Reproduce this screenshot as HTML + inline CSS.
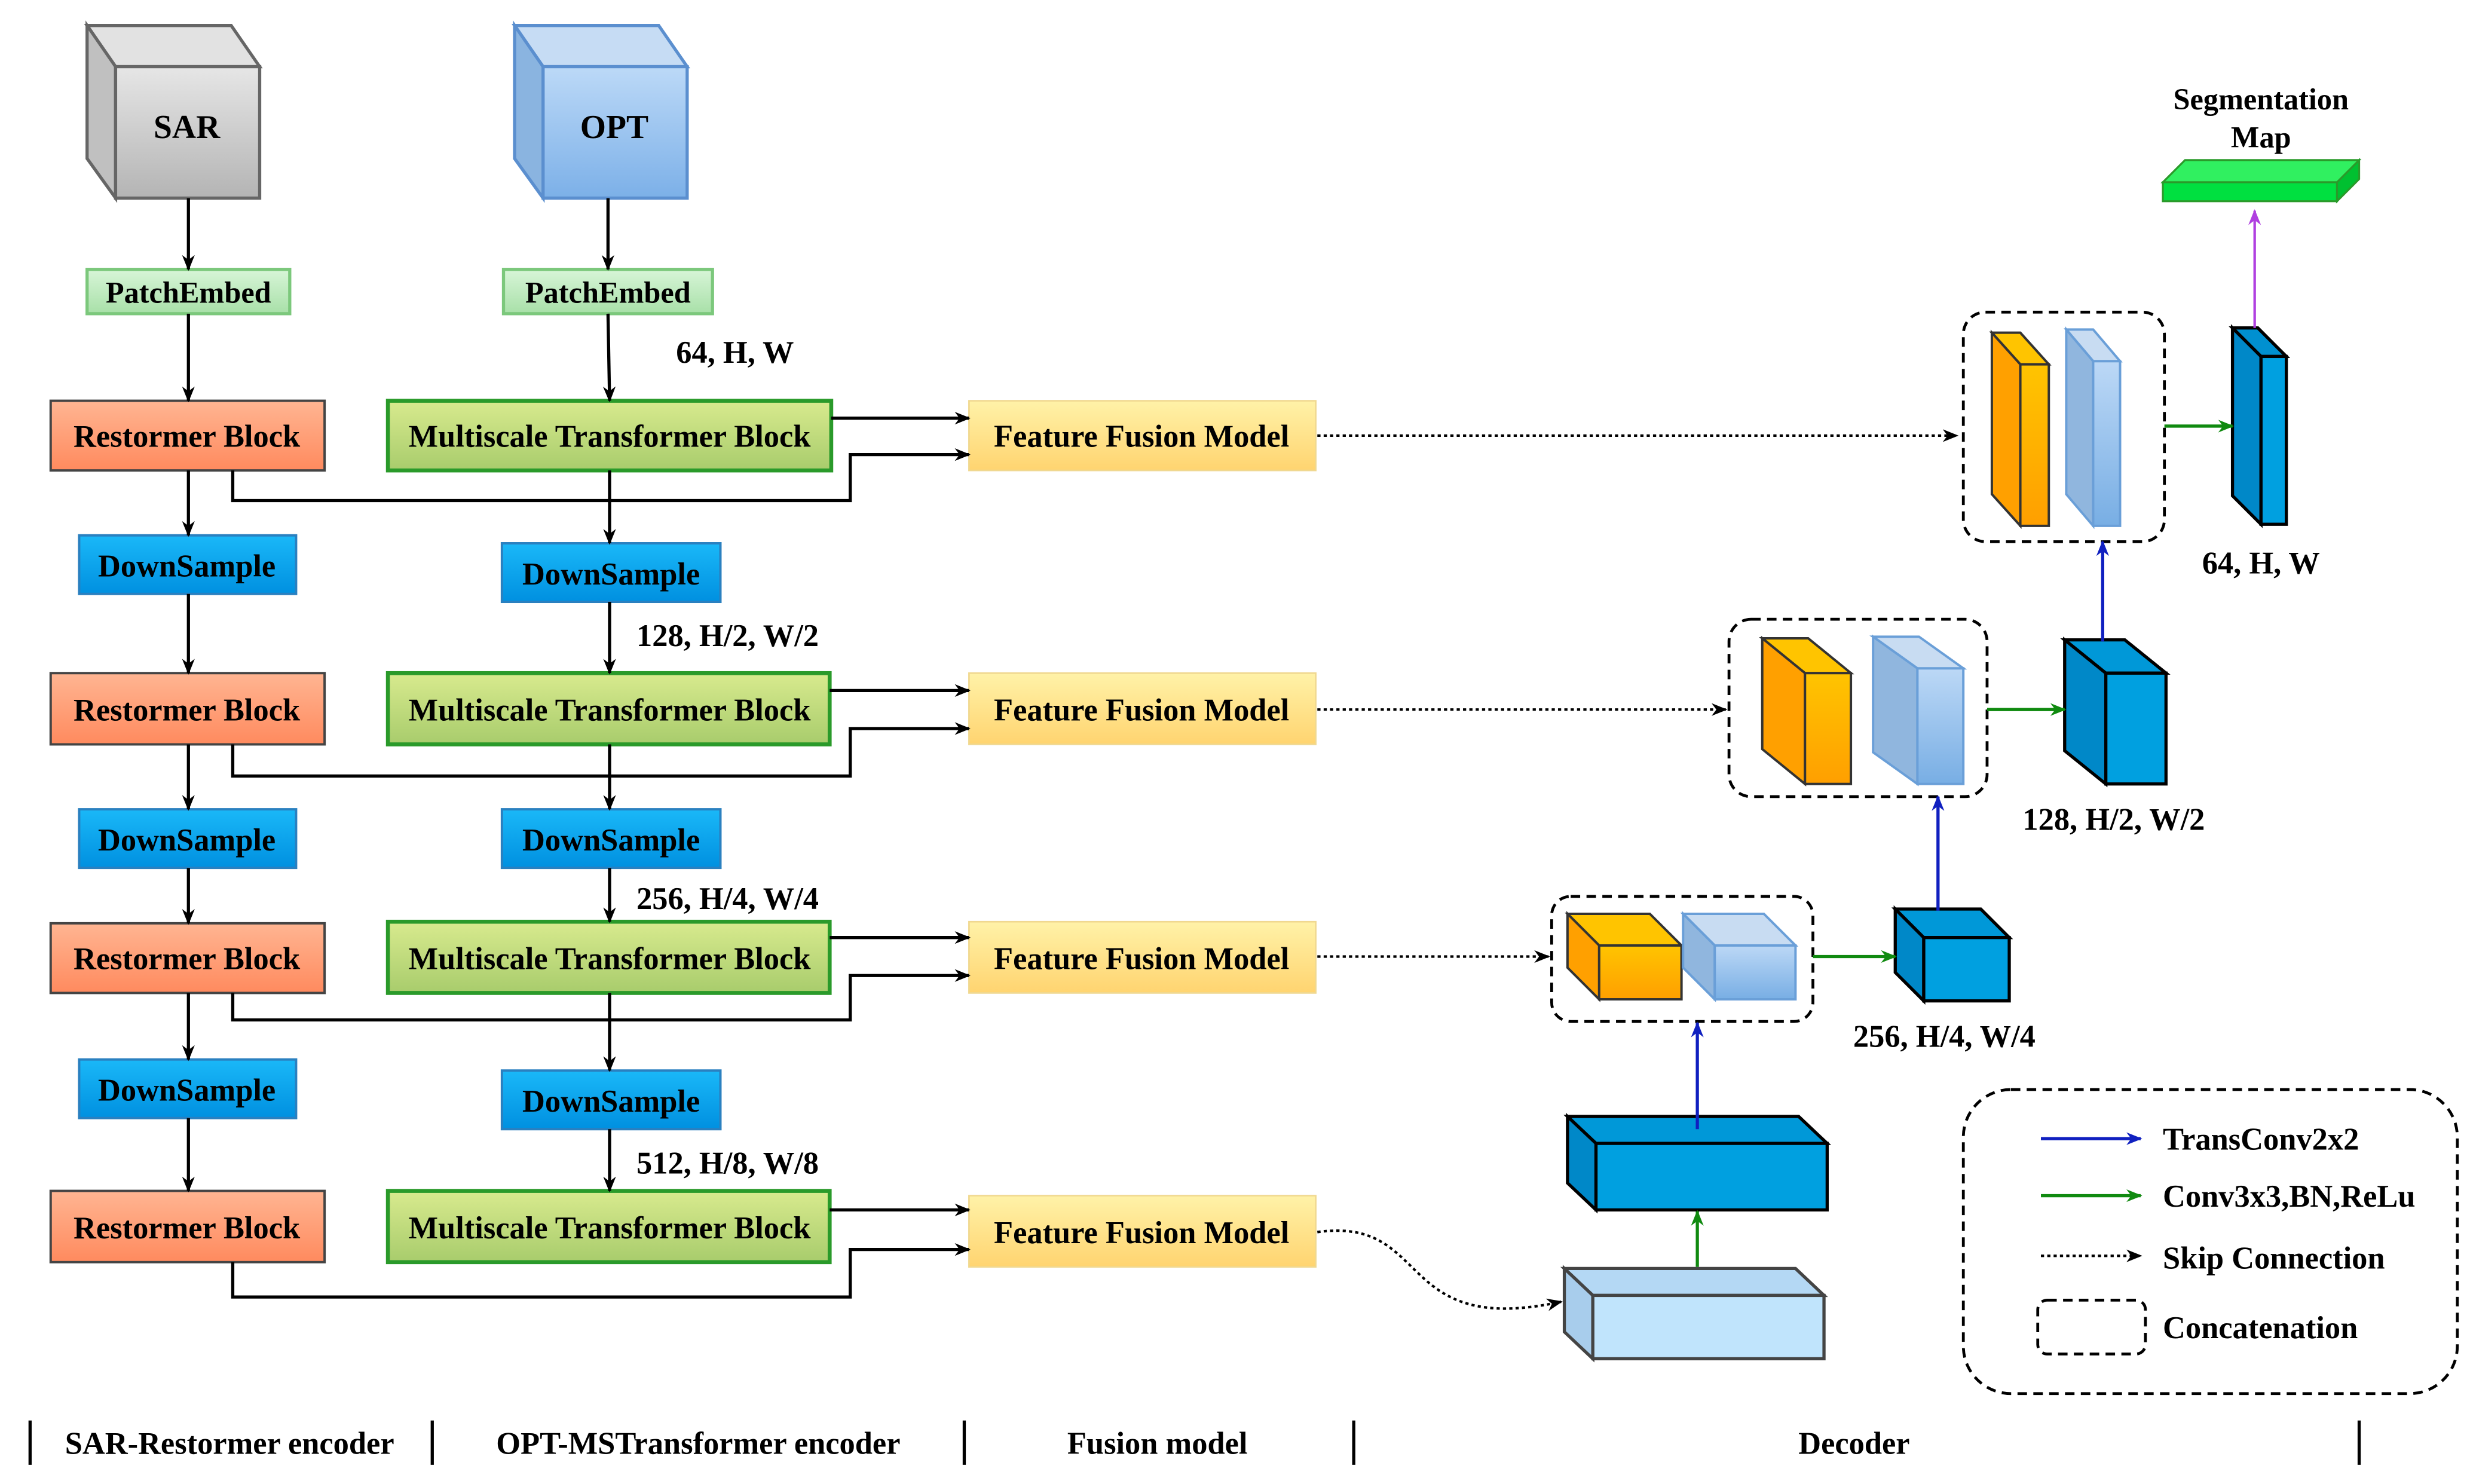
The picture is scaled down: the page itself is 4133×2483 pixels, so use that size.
<!DOCTYPE html>
<html><head><meta charset="utf-8"><style>html,body{margin:0;padding:0;background:#fff}svg{display:block}</style></head>
<body>
<svg width="4133" height="2483" viewBox="0 0 1560 937" xmlns="http://www.w3.org/2000/svg" font-family="'Liberation Serif',serif" font-weight="bold">
<defs>
<marker id="ak" markerWidth="10" markerHeight="10" refX="9" refY="5" orient="auto" markerUnits="userSpaceOnUse"><path d="M0,1 L10,5 L0,9 L3,5z" fill="#000"/></marker>
<marker id="ab" markerWidth="10" markerHeight="10" refX="9" refY="5" orient="auto" markerUnits="userSpaceOnUse"><path d="M0,1 L10,5 L0,9 L3,5z" fill="#1020c0"/></marker>
<marker id="ag" markerWidth="10" markerHeight="10" refX="9" refY="5" orient="auto" markerUnits="userSpaceOnUse"><path d="M0,1 L10,5 L0,9 L3,5z" fill="#108a10"/></marker>
<marker id="ap" markerWidth="10" markerHeight="10" refX="9" refY="5" orient="auto" markerUnits="userSpaceOnUse"><path d="M0,1 L10,5 L0,9 L3,5z" fill="#b040e0"/></marker>
<linearGradient id="gGray" x1="0" y1="0" x2="0" y2="1"><stop offset="0" stop-color="#e6e6e6"/><stop offset="1" stop-color="#b4b4b4"/></linearGradient>
<linearGradient id="gOpt" x1="0" y1="0" x2="0" y2="1"><stop offset="0" stop-color="#bcd9f7"/><stop offset="1" stop-color="#7cb0e8"/></linearGradient>
<linearGradient id="gRes" x1="0" y1="0" x2="0" y2="1"><stop offset="0" stop-color="#ffb592"/><stop offset="1" stop-color="#ff8a5e"/></linearGradient>
<linearGradient id="gMtb" x1="0" y1="0" x2="0" y2="1"><stop offset="0" stop-color="#d8ea8e"/><stop offset="1" stop-color="#a8cc6c"/></linearGradient>
<linearGradient id="gFfm" x1="0" y1="0" x2="0" y2="1"><stop offset="0" stop-color="#fff2a8"/><stop offset="1" stop-color="#ffd470"/></linearGradient>
<linearGradient id="gDs" x1="0" y1="0" x2="0" y2="1"><stop offset="0" stop-color="#1ab8f8"/><stop offset="1" stop-color="#0090e0"/></linearGradient>
<linearGradient id="gPe" x1="0" y1="0" x2="0" y2="1"><stop offset="0" stop-color="#d8f5d8"/><stop offset="1" stop-color="#a8e0a8"/></linearGradient>
<linearGradient id="gOr" x1="0" y1="0" x2="0" y2="1"><stop offset="0" stop-color="#ffc400"/><stop offset="1" stop-color="#ff9f00"/></linearGradient>
<linearGradient id="gLb" x1="0" y1="0" x2="0" y2="1"><stop offset="0" stop-color="#bcd8f6"/><stop offset="1" stop-color="#78aee4"/></linearGradient>
</defs>

<g stroke="#666" stroke-width="2">
<polygon points="55,16 146,16 164,42 73,42" fill="#e2e2e2"/>
<polygon points="55,16 73,42 73,125 55,100" fill="#c0c0c0"/>
<rect x="73" y="42" width="91" height="83" fill="url(#gGray)"/>
</g>
<g stroke="#5b8fcf" stroke-width="2">
<polygon points="325,16 416,16 434,42 343,42" fill="#c6dcf4"/>
<polygon points="325,16 343,42 343,125 325,100" fill="#8ab4e0"/>
<rect x="343" y="42" width="91" height="83" fill="url(#gOpt)"/>
</g>
<text x="118" y="87" font-size="21" text-anchor="middle">SAR</text>
<text x="388" y="87" font-size="21" text-anchor="middle">OPT</text>

<rect x="55" y="170" width="128" height="28" fill="url(#gPe)" stroke="#7cc87c" stroke-width="2"/>
<rect x="318" y="170" width="132" height="28" fill="url(#gPe)" stroke="#7cc87c" stroke-width="2"/>
<g font-size="19" text-anchor="middle">
<text x="119" y="191">PatchEmbed</text><text x="384" y="191">PatchEmbed</text>
</g>

<g fill="url(#gRes)" stroke="#444" stroke-width="1.5">
<rect x="32" y="253" width="173" height="44"/><rect x="32" y="425" width="173" height="45"/>
<rect x="32" y="583" width="173" height="44"/><rect x="32" y="752" width="173" height="45"/>
</g>
<g fill="url(#gMtb)" stroke="#2a9a2a" stroke-width="2.5">
<rect x="245" y="253" width="280" height="44"/><rect x="245" y="425" width="279" height="45"/>
<rect x="245" y="582" width="279" height="45"/><rect x="245" y="752" width="279" height="45"/>
</g>
<g fill="url(#gFfm)" stroke="#f0d890" stroke-width="1">
<rect x="612" y="253" width="219" height="44"/><rect x="612" y="425" width="219" height="45"/>
<rect x="612" y="582" width="219" height="45"/><rect x="612" y="755" width="219" height="45"/>
</g>
<g fill="url(#gDs)" stroke="#2a80c0" stroke-width="1.5">
<rect x="50" y="338" width="137" height="37"/><rect x="50" y="511" width="137" height="37"/><rect x="50" y="669" width="137" height="37"/>
<rect x="317" y="343" width="138" height="37"/><rect x="317" y="511" width="138" height="37"/><rect x="317" y="676" width="138" height="37"/>
</g>
<g font-size="19.8" text-anchor="middle">
<text x="118" y="282">Restormer Block</text><text x="118" y="455">Restormer Block</text>
<text x="118" y="612">Restormer Block</text><text x="118" y="782">Restormer Block</text>
<text x="385" y="282">Multiscale Transformer Block</text><text x="385" y="455">Multiscale Transformer Block</text>
<text x="385" y="612">Multiscale Transformer Block</text><text x="385" y="782">Multiscale Transformer Block</text>
<text x="721" y="282">Feature Fusion Model</text><text x="721" y="455">Feature Fusion Model</text>
<text x="721" y="612">Feature Fusion Model</text><text x="721" y="785">Feature Fusion Model</text>
<text x="118" y="364">DownSample</text><text x="118" y="537">DownSample</text><text x="118" y="695">DownSample</text>
<text x="386" y="369">DownSample</text><text x="386" y="537">DownSample</text><text x="386" y="702">DownSample</text>
</g>

<g stroke="#000" stroke-width="2" marker-end="url(#ak)" fill="none">
<line x1="119" y1="125" x2="119" y2="170"/><line x1="119" y1="198" x2="119" y2="253"/>
<line x1="119" y1="297" x2="119" y2="338"/><line x1="119" y1="375" x2="119" y2="425"/>
<line x1="119" y1="470" x2="119" y2="511"/><line x1="119" y1="548" x2="119" y2="583"/>
<line x1="119" y1="627" x2="119" y2="669"/><line x1="119" y1="706" x2="119" y2="752"/>
<line x1="384" y1="125" x2="384" y2="170"/><line x1="384" y1="198" x2="385" y2="253"/>
<line x1="385" y1="297" x2="385" y2="343"/><line x1="385" y1="380" x2="385" y2="425"/>
<line x1="385" y1="470" x2="385" y2="511"/><line x1="385" y1="548" x2="385" y2="582"/>
<line x1="385" y1="627" x2="385" y2="676"/><line x1="385" y1="713" x2="385" y2="752"/>
<line x1="525" y1="264" x2="612" y2="264"/><line x1="524" y1="436" x2="612" y2="436"/>
<line x1="524" y1="592" x2="612" y2="592"/><line x1="524" y1="764" x2="612" y2="764"/>
<polyline points="147,297 147,316 537,316 537,287 612,287"/>
<polyline points="147,470 147,490 537,490 537,460 612,460"/>
<polyline points="147,627 147,644 537,644 537,616 612,616"/>
<polyline points="147,797 147,819 537,819 537,789 612,789"/>
</g>
<g font-size="19.8">
<text x="427" y="229">64, H, W</text><text x="402" y="408">128, H/2, W/2</text>
<text x="402" y="574">256, H/4, W/4</text><text x="402" y="741">512, H/8, W/8</text>
</g>

<g stroke="#000" stroke-width="1.6" stroke-dasharray="2,2" fill="none" marker-end="url(#ak)">
<line x1="832" y1="275" x2="1236" y2="275"/><line x1="832" y1="448" x2="1090" y2="448"/>
<line x1="832" y1="604" x2="978" y2="604"/>
<path d="M832,778 C905,768 880,845 986,822"/>
</g>

<g fill="none" stroke="#000" stroke-width="1.8" stroke-dasharray="6,4">
<rect x="1240" y="197" width="127" height="145" rx="14"/>
<rect x="1092" y="391" width="163" height="112" rx="14"/>
<rect x="980" y="566" width="165" height="79" rx="12"/>
</g>
<g stroke="#333" stroke-width="1.5">
<polygon points="1258,210 1276,210 1294,230 1276,230" fill="#ffc400"/><polygon points="1258,210 1276,230 1276,332 1258,312" fill="#ffa000"/><rect x="1276" y="230" width="18" height="102" fill="url(#gOr)"/>
</g>
<g stroke="#6a9fd8" stroke-width="1.5">
<polygon points="1305,208 1322,208 1339,228 1322,228" fill="#c8dcf2"/><polygon points="1305,208 1322,228 1322,332 1305,312" fill="#90b6de"/><rect x="1322" y="228" width="17" height="104" fill="url(#gLb)"/>
</g>
<g stroke="#000" stroke-width="2">
<polygon points="1410,207 1426,207 1444,225 1428,225" fill="#0090d0"/><polygon points="1410,207 1428,225 1428,331 1410,313" fill="#0088c8"/><rect x="1428" y="225" width="16" height="106" fill="#00a0e0"/>
</g>
<g stroke="#333" stroke-width="1.5">
<polygon points="1113,403 1142,403 1169,425 1140,425" fill="#ffc400"/><polygon points="1113,403 1140,425 1140,495 1113,473" fill="#ffa000"/><rect x="1140" y="425" width="29" height="70" fill="url(#gOr)"/>
</g>
<g stroke="#6a9fd8" stroke-width="1.5">
<polygon points="1183,402 1212,402 1240,422 1211,422" fill="#c8dcf2"/><polygon points="1183,402 1211,422 1211,495 1183,475" fill="#90b6de"/><rect x="1211" y="422" width="29" height="73" fill="url(#gLb)"/>
</g>
<g stroke="#000" stroke-width="2">
<polygon points="1304,404 1342,404 1368,425 1330,425" fill="#0098d8"/><polygon points="1304,404 1330,425 1330,495 1304,474" fill="#0088c8"/><rect x="1330" y="425" width="38" height="70" fill="#00a0e0"/>
</g>
<g stroke="#333" stroke-width="1.5">
<polygon points="990,577 1042,577 1062,597 1010,597" fill="#ffc400"/><polygon points="990,577 1010,597 1010,631 990,611" fill="#ffa000"/><rect x="1010" y="597" width="52" height="34" fill="url(#gOr)"/>
</g>
<g stroke="#6a9fd8" stroke-width="1.5">
<polygon points="1063,577 1114,577 1134,597 1083,597" fill="#c8dcf2"/><polygon points="1063,577 1083,597 1083,631 1063,611" fill="#90b6de"/><rect x="1083" y="597" width="51" height="34" fill="url(#gLb)"/>
</g>
<g stroke="#000" stroke-width="2">
<polygon points="1197,574 1251,574 1269,592 1215,592" fill="#0098d8"/><polygon points="1197,574 1215,592 1215,632 1197,614" fill="#0088c8"/><rect x="1215" y="592" width="54" height="40" fill="#00a0e0"/>
</g>
<g stroke="#000" stroke-width="2">
<polygon points="990,705 1136,705 1154,722 1008,722" fill="#0098d8"/><polygon points="990,705 1008,722 1008,764 990,747" fill="#0088c8"/><rect x="1008" y="722" width="146" height="42" fill="#00a0e0"/>
</g>
<g stroke="#444" stroke-width="2">
<polygon points="988,801 1134,801 1152,818 1006,818" fill="#b4d8f4"/><polygon points="988,801 1006,818 1006,858 988,841" fill="#a8cdec"/><rect x="1006" y="818" width="146" height="40" fill="#c0e4fc"/>
</g>
<g stroke="#2a9a2a" stroke-width="1.2">
<polygon points="1380,101 1490,101 1476,115 1366,115" fill="#30f060"/>
<rect x="1366" y="115" width="110" height="12" fill="#00e040"/>
<polygon points="1476,115 1490,101 1490,113 1476,127" fill="#00c030"/>
</g>
<g font-size="19" text-anchor="middle"><text x="1428" y="69">Segmentation</text><text x="1428" y="93">Map</text></g>

<line x1="1424" y1="207" x2="1424" y2="133" stroke="#b040e0" stroke-width="1.6" marker-end="url(#ap)"/>
<g stroke="#108a10" stroke-width="2" marker-end="url(#ag)">
<line x1="1367" y1="269" x2="1410" y2="269"/><line x1="1255" y1="448" x2="1304" y2="448"/>
<line x1="1145" y1="604" x2="1197" y2="604"/><line x1="1072" y1="800" x2="1072" y2="765"/>
</g>
<g stroke="#1020c0" stroke-width="2" marker-end="url(#ab)">
<line x1="1328" y1="405" x2="1328" y2="342"/><line x1="1224" y1="575" x2="1224" y2="503"/>
<line x1="1072" y1="713" x2="1072" y2="646"/>
</g>
<g font-size="19.8" text-anchor="middle">
<text x="1428" y="362">64, H, W</text><text x="1335" y="524">128, H/2, W/2</text><text x="1228" y="661">256, H/4, W/4</text>
</g>

<rect x="1240" y="688" width="312" height="192" rx="30" fill="none" stroke="#000" stroke-width="1.8" stroke-dasharray="6,4"/>
<line x1="1289" y1="719" x2="1352" y2="719" stroke="#1020c0" stroke-width="2" marker-end="url(#ab)"/>
<line x1="1289" y1="755" x2="1352" y2="755" stroke="#108a10" stroke-width="2" marker-end="url(#ag)"/>
<line x1="1289" y1="793" x2="1352" y2="793" stroke="#000" stroke-width="1.6" stroke-dasharray="2,2" marker-end="url(#ak)"/>
<rect x="1287" y="821" width="68" height="34" rx="6" fill="none" stroke="#000" stroke-width="1.8" stroke-dasharray="6,4"/>
<g font-size="19.8">
<text x="1366" y="726">TransConv2x2</text><text x="1366" y="762">Conv3x3,BN,ReLu</text>
<text x="1366" y="801">Skip Connection</text><text x="1366" y="845">Concatenation</text>
</g>

<g stroke="#000" stroke-width="2">
<line x1="19" y1="897" x2="19" y2="925"/><line x1="273" y1="897" x2="273" y2="925"/>
<line x1="609" y1="897" x2="609" y2="925"/><line x1="855" y1="897" x2="855" y2="925"/>
<line x1="1490" y1="897" x2="1490" y2="925"/>
</g>
<g font-size="19.8" text-anchor="middle">
<text x="145" y="918">SAR-Restormer encoder</text><text x="441" y="918">OPT-MSTransformer encoder</text>
<text x="731" y="918">Fusion model</text><text x="1171" y="918">Decoder</text>
</g>
</svg>
</body></html>
